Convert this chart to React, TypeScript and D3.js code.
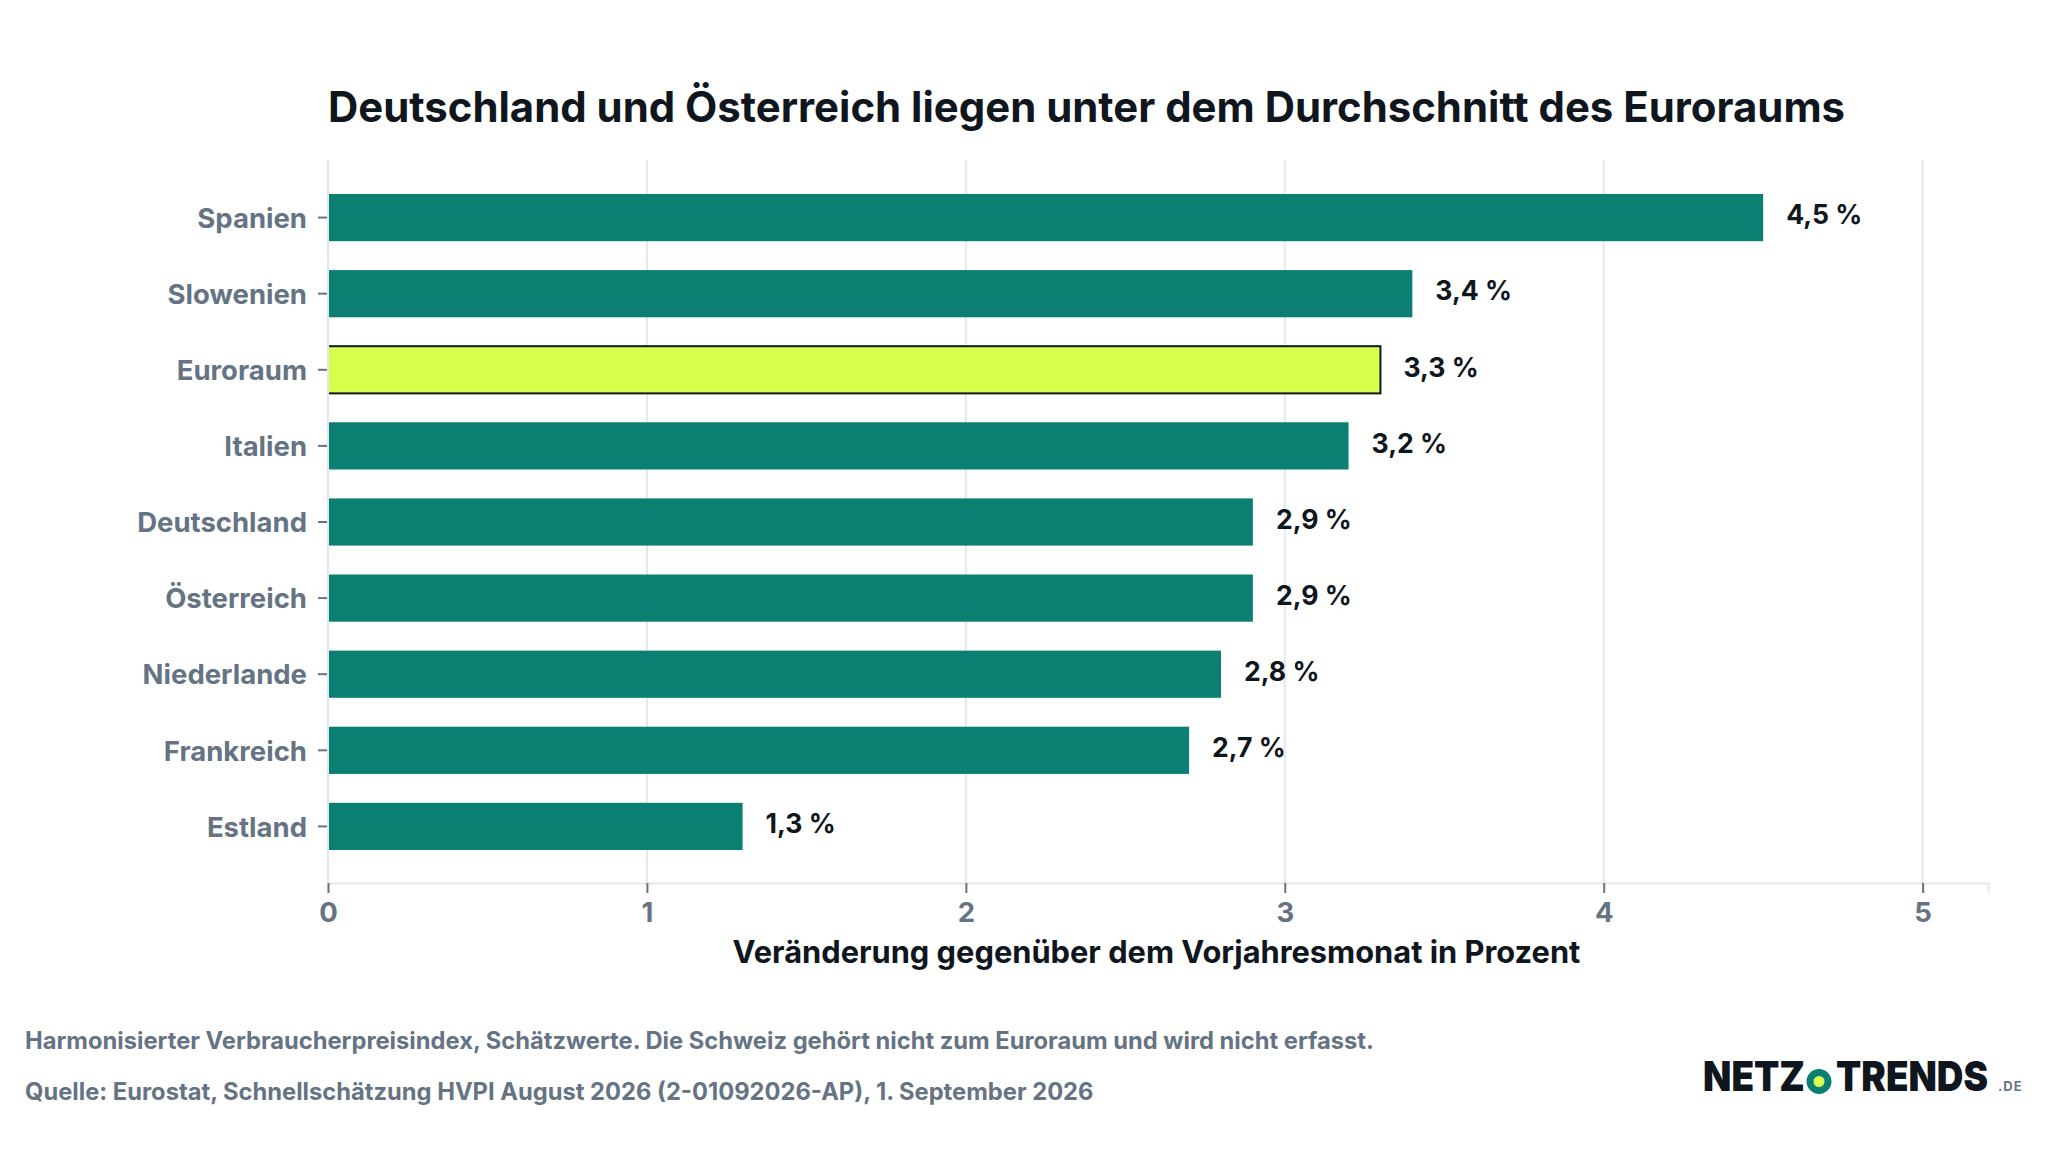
import React, { useRef, useEffect } from "react";
import * as d3 from "d3";

const countries = ["Spanien", "Slowenien", "Euroraum", "Italien", "Deutschland", "Österreich", "Niederlande", "Frankreich", "Estland"];
const values = [4.5, 3.4, 3.3, 3.2, 2.9, 2.9, 2.8, 2.7, 1.3];
const xTicks = [0, 1, 2, 3, 4, 5];
const highlight = "Euroraum";

const title = "Deutschland und Österreich liegen unter dem Durchschnitt des Euroraums";
const xTitle = "Veränderung gegenüber dem Vorjahresmonat in Prozent";
const notes = [
  "Harmonisierter Verbraucherpreisindex, Schätzwerte. Die Schweiz gehört nicht zum Euroraum und wird nicht erfasst.",
  "Quelle: Eurostat, Schnellschätzung HVPI August 2026 (2-01092026-AP), 1. September 2026",
];

const TEAL = "#0b7f71";
const LIME = "#d9ff4d";
const DARK = "#10161d";
const GRAY = "#667384";
const GRID = "#e4e8ed";
const FONT = "Inter, sans-serif";

const App = () => {
  const svgRef = useRef<SVGSVGElement>(null);

  useEffect(() => {
    const svg = d3.select(svgRef.current);
    svg.selectAll("*").remove();

    const left = 328;
    const right = 1988;
    const top = 160;
    const bottom = 883;

    const x = d3.scaleLinear().domain([0, 5.205]).range([left, right]);
    const y = d3
      .scaleBand()
      .domain(countries)
      .range([top + 0.5, bottom + 0.5])
      .paddingInner(0.38)
      .paddingOuter(0.44);

    svg
      .append("rect")
      .attr("width", 2048)
      .attr("height", 1152)
      .attr("fill", "#fff");

    svg
      .append("text")
      .attr("x", 328)
      .attr("y", 122)
      .attr("font-size", 41.9)
      .attr("font-weight", 700)
      .attr("fill", DARK)
      .text(title);

    // Gridlines
    svg
      .append("g")
      .selectAll("line")
      .data(xTicks.slice(1))
      .enter()
      .append("line")
      .attr("x1", (d) => x(d))
      .attr("x2", (d) => x(d))
      .attr("y1", top)
      .attr("y2", bottom)
      .attr("stroke", GRID)
      .attr("stroke-width", 2);

    // Bars
    svg
      .append("g")
      .selectAll("rect")
      .data(countries)
      .enter()
      .append("rect")
      .attr("x", x(0))
      .attr("y", (d) => y(d))
      .attr("width", (d, i) => x(values[i]) - x(0))
      .attr("height", y.bandwidth())
      .attr("fill", (d) => (d === highlight ? LIME : TEAL))
      .attr("stroke", (d) => (d === highlight ? DARK : "none"))
      .attr("stroke-width", 2);

    // Zero line sits on top of the bars
    svg
      .append("line")
      .attr("x1", x(0))
      .attr("x2", x(0))
      .attr("y1", top)
      .attr("y2", bottom)
      .attr("stroke", GRID)
      .attr("stroke-width", 2);

    // Value labels
    svg
      .append("g")
      .selectAll("text")
      .data(countries)
      .enter()
      .append("text")
      .attr("x", (d, i) => x(values[i]) + 23)
      .attr("y", (d) => y(d) + y.bandwidth() / 2 - 2.5)
      .attr("dy", "0.35em")
      .attr("font-size", 26.6)
      .attr("font-weight", 700)
      .attr("fill", DARK)
      .text((d, i) => `${String(values[i]).replace(".", ",")} %`);

    // Axes
    const xAxis = d3
      .axisBottom(x)
      .tickValues(xTicks)
      .tickSize(10)
      .tickPadding(9)
      .tickFormat((d) => String(d));
    const yAxis = d3.axisLeft(y).tickSize(9).tickPadding(11);

    const xG = svg
      .append("g")
      .attr("transform", `translate(0, ${bottom})`)
      .call(xAxis);
    const yG = svg
      .append("g")
      .attr("transform", `translate(${left - 1}, 0)`)
      .call(yAxis);

    xG.select(".domain").attr("stroke", GRID).attr("stroke-width", 2);
    yG.select(".domain").remove();
    xG.selectAll(".tick line").attr("stroke", GRAY).attr("stroke-width", 2);
    yG.selectAll(".tick line").attr("stroke", GRAY).attr("stroke-width", 2);
    [xG, yG].forEach((g) =>
      g
        .selectAll(".tick text")
        .attr("font-family", FONT)
        .attr("font-size", 27.5)
        .attr("font-weight", 700)
        .attr("fill", GRAY)
    );
    yG.selectAll(".tick text").attr("dy", "0.37em");

    svg
      .append("text")
      .attr("x", 1156.5)
      .attr("y", 963)
      .attr("text-anchor", "middle")
      .attr("font-size", 30.8)
      .attr("font-weight", 700)
      .attr("fill", DARK)
      .text(xTitle);

    // Footer notes
    svg
      .append("g")
      .selectAll("text")
      .data(notes)
      .enter()
      .append("text")
      .attr("x", 25)
      .attr("y", (d, i) => 1048.5 + i * 51)
      .attr("font-size", 23.72)
      .attr("font-weight", 700)
      .attr("fill", GRAY)
      .text((d) => d);

    // Logo, word marks squeezed to their measured widths
    const logo = svg.append("g").attr("font-weight", 900).attr("fill", DARK);
    const wordmark = (text: string, xPos: number, width: number) => {
      const t = logo.append("text").attr("font-size", 41.3).text(text);
      const sx = width / (t.node() as SVGTextElement).getComputedTextLength();
      t.attr("transform", `translate(${xPos}, 1090.5) scale(${sx}, 1)`);
    };
    wordmark("NETZ", 1703, 102);
    wordmark("TRENDS", 1836, 152);
    logo
      .append("circle")
      .attr("cx", 1819)
      .attr("cy", 1081.5)
      .attr("r", 9)
      .attr("fill", LIME)
      .attr("stroke", TEAL)
      .attr("stroke-width", 7);
    logo
      .append("text")
      .attr("x", 1998)
      .attr("y", 1091)
      .attr("font-size", 13)
      .attr("font-weight", 700)
      .attr("letter-spacing", 1)
      .attr("fill", GRAY)
      .text(".DE");
  }, []);

  return (
    <svg
      ref={svgRef}
      width={2048}
      height={1152}
      fontFamily={FONT}
      style={{ position: "absolute", left: 0, top: 0 }}
    ></svg>
  );
};

export default App;
